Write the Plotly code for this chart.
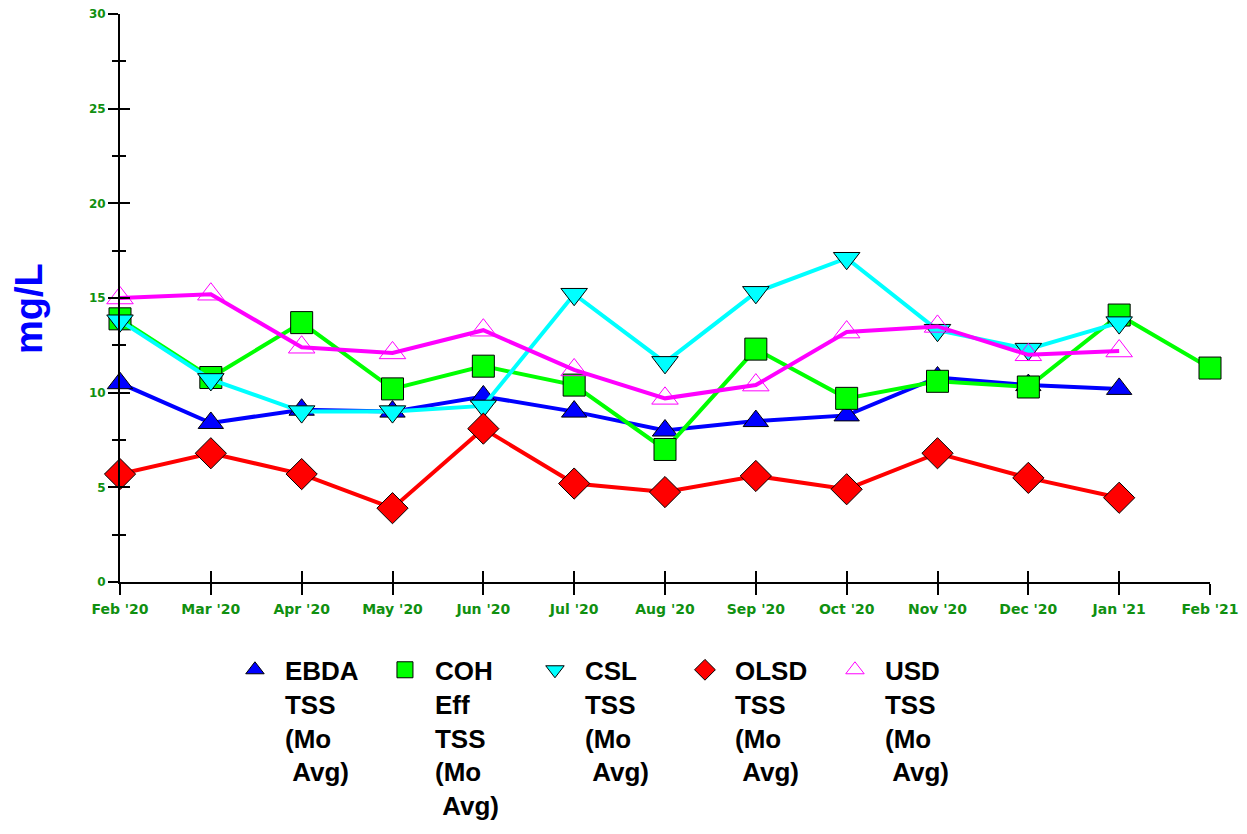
import plotly.graph_objects as go

months = ["Feb '20", "Mar '20", "Apr '20", "May '20", "Jun '20", "Jul '20", "Aug '20",
          "Sep '20", "Oct '20", "Nov '20", "Dec '20", "Jan '21", "Feb '21"]

ebda = [10.5, 8.4, 9.1, 9.0, 9.8, 9.0, 8.0, 8.5, 8.8, 10.8, 10.4, 10.2, None]
coh = [13.9, 10.8, 13.7, 10.2, 11.4, 10.4, 7.0, 12.3, 9.7, 10.6, 10.3, 14.1, 11.3]
csl = [13.8, 10.7, 9.0, 9.0, 9.3, 15.2, 11.6, 15.3, 17.1, 13.3, 12.3, 13.7, None]
olsd = [5.7, 6.8, 5.7, 3.9, 8.1, 5.2, 4.75, 5.6, 4.9, 6.8, 5.5, 4.45, None]
usd = [15.0, 15.2, 12.4, 12.1, 13.3, 11.2, 9.7, 10.4, 13.2, 13.5, 12.0, 12.2, None]

names = ["EBDA<br>TSS<br>(Mo<br>\u00a0Avg)",
         "COH<br>Eff<br>TSS<br>(Mo<br>\u00a0Avg)",
         "CSL<br>TSS<br>(Mo<br>\u00a0Avg)",
         "OLSD<br>TSS<br>(Mo<br>\u00a0Avg)",
         "USD<br>TSS<br>(Mo<br>\u00a0Avg)"]

y_major = [0, 5, 10, 15, 20, 25, 30]
y_minor = [2.5, 7.5, 12.5, 17.5, 22.5, 27.5]

styles = [
    dict(color="#0000FF", symbol="triangle-up", size=22, mline="#000000", mw=1),
    dict(color="#00FF00", symbol="square", size=22, mline="#000000", mw=1),
    dict(color="#00FFFF", symbol="triangle-down", size=23, mline="#000000", mw=1),
    dict(color="#FF0000", symbol="diamond", size=24, mline="#000000", mw=1),
    dict(color="#FF00FF", symbol="triangle-up-open", size=23, mline="#FF00FF", mw=1),
]

fig = go.Figure()
for name, vals, st in zip(names, [ebda, coh, csl, olsd, usd], styles):
    fig.add_trace(go.Scatter(
        x=months, y=vals, mode="lines", showlegend=False, hoverinfo="skip",
        line=dict(color=st["color"], width=4), cliponaxis=False, connectgaps=False))
    fig.add_trace(go.Scatter(
        x=months, y=vals, mode="markers", name=name, cliponaxis=False,
        marker=dict(color=st["color"], symbol=st["symbol"], size=st["size"],
                    line=dict(color=st["mline"], width=st["mw"]))))

# overlay axes give the crossing tick marks
fig.add_trace(go.Scatter(x=[], y=[], xaxis="x2", yaxis="y2", showlegend=False))

x_tick_font = dict(family="DejaVu Sans, sans-serif", size=14, color="#109010", weight="bold")
y_tick_font = dict(family="DejaVu Sans, sans-serif", size=12, color="#109010", weight="bold")

fig.update_layout(
    width=1239, height=826,
    paper_bgcolor="white", plot_bgcolor="white",
    margin=dict(l=112, r=37, t=6, b=251),
    font=dict(family="Arial, Liberation Sans, sans-serif"),
    xaxis=dict(type="category", categoryorder="array", categoryarray=months,
               range=[0, 12], showgrid=False, zeroline=False,
               showline=True, linecolor="black", linewidth=2,
               ticks="outside", ticklen=11, tickwidth=1.5, tickcolor="black",
               tickfont=x_tick_font, ticklabelstandoff=2,
               ticklabeloverflow="allow", automargin=False),
    xaxis2=dict(type="category", categoryorder="array", categoryarray=months,
                range=[0, 12], overlaying="x", anchor="y", side="bottom",
                showgrid=False, zeroline=False, showline=False,
                ticks="inside", ticklen=11, tickwidth=1.5, tickcolor="black",
                showticklabels=False, automargin=False),
    yaxis=dict(range=[0, 30], tickmode="array", tickvals=y_major,
               showgrid=False, zeroline=False,
               showline=True, linecolor="black", linewidth=2,
               ticks="outside", ticklen=10, tickwidth=1.5, tickcolor="black",
               minor=dict(tickmode="array", tickvals=y_minor, ticks="outside",
                          ticklen=6, tickwidth=1.5, tickcolor="black", showgrid=False),
               tickfont=y_tick_font, ticklabeloverflow="allow", automargin=False),
    yaxis2=dict(range=[0, 30], tickmode="array", tickvals=y_major,
                overlaying="y", anchor="x", side="left",
                showgrid=False, zeroline=False, showline=False,
                ticks="inside", ticklen=10, tickwidth=1.5, tickcolor="black",
                minor=dict(tickmode="array", tickvals=y_minor, ticks="inside",
                           ticklen=6, tickwidth=1.5, tickcolor="black", showgrid=False),
                showticklabels=False, automargin=False),
    legend=dict(orientation="h", x=0.0963, xanchor="left", y=-0.433, yanchor="bottom",
                valign="top", bgcolor="rgba(0,0,0,0)", itemwidth=50,
                entrywidth=85, entrywidthmode="pixels",
                font=dict(family="Arial, Liberation Sans, sans-serif", size=26,
                          color="black", weight="bold")),
    annotations=[dict(text="mg/L", xref="paper", yref="paper", x=0, y=0.5,
                      xanchor="center", yanchor="middle",
                      xshift=-91, yshift=-11, textangle=-90, showarrow=False,
                      font=dict(family="Arial, Liberation Sans, sans-serif", size=38,
                                color="#0000FF", weight="bold"))],
)

fig.write_html("out.html")
